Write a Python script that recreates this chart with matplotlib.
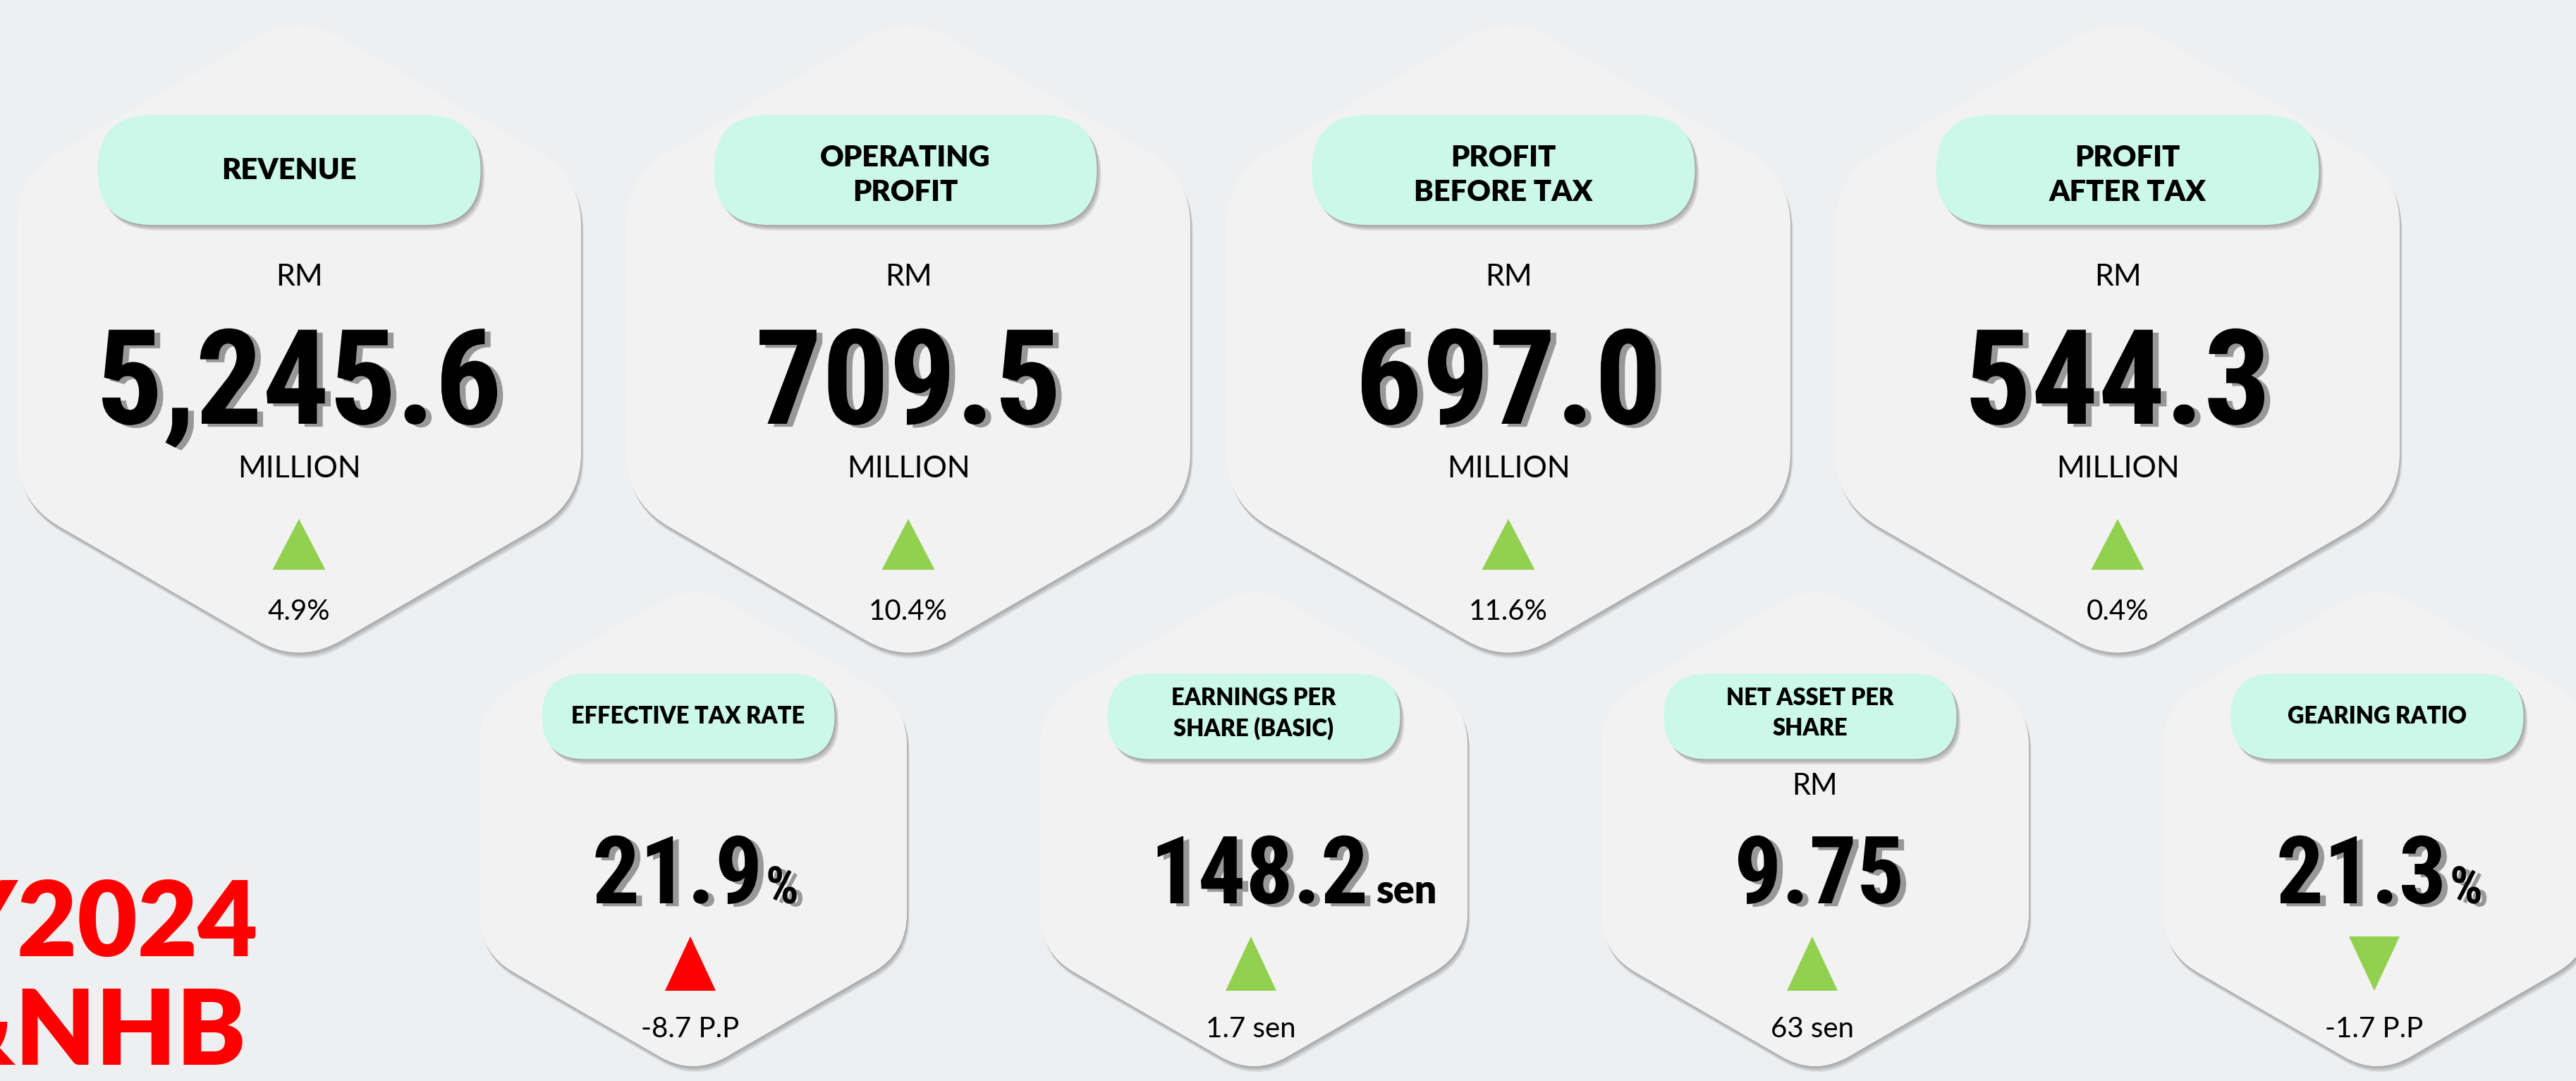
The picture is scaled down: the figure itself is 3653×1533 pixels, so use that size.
import numpy as np
import matplotlib
matplotlib.use("Agg")
import matplotlib.pyplot as plt
from matplotlib.path import Path
from matplotlib.patches import PathPatch, FancyBboxPatch, Polygon
from matplotlib.textpath import TextPath
from matplotlib.font_manager import FontProperties
import matplotlib.patheffects as pe

# --- data ---
top_titles = ["REVENUE", "OPERATING\nPROFIT", "PROFIT\nBEFORE TAX", "PROFIT\nAFTER TAX"]
top_values = [5245.6, 709.5, 697.0, 544.3]          # RM million
top_growth = [4.9, 10.4, 11.6, 0.4]                 # % change

bottom_titles = ["EFFECTIVE TAX RATE", "EARNINGS PER\nSHARE (BASIC)", "NET ASSET PER\nSHARE", "GEARING RATIO"]
bottom_values = ["21.9", "148.2", "9.75", "21.3"]
bottom_units = ["%", "sen", "", "%"]
bottom_prefix = ["", "", "RM", ""]
bottom_changes = ["-8.7 P.P", "1.7 sen", "63 sen", "-1.7 P.P"]
bottom_up = [True, True, True, False]
bottom_good = [False, True, True, True]

title_lines = ["FY2024", "F&NHB"]

# --- style ---
BG = "#edeff1"
HEX = "#f2f2f2"
MINT = "#ccf8ea"
GREEN = "#92d050"
RED = "#ff0000"

W, H = 3653, 1533
COND = ["Roboto Condensed", "DejaVu Sans Condensed", "Liberation Sans Narrow", "Roboto", "DejaVu Sans"]
SANS = ["Lato", "Noto Sans", "DejaVu Sans"]

fig = plt.figure(figsize=(W / 100, H / 100), dpi=100)
fig.patch.set_facecolor(BG)
ax = fig.add_axes([0, 0, 1, 1])
ax.set_xlim(0, W)
ax.set_ylim(H, 0)
ax.axis("off")
ax.set_facecolor(BG)


def hex_path(cx, cy, R, r):
    ang = np.deg2rad([90, 150, 210, 270, 330, 30])
    pts = np.column_stack([cx + R * np.cos(ang), cy + R * np.sin(ang)])
    verts, codes = [], []
    for i in range(6):
        p, prev, nxt = pts[i], pts[i - 1], pts[(i + 1) % 6]
        a = p + (prev - p) / np.linalg.norm(prev - p) * r
        b = p + (nxt - p) / np.linalg.norm(nxt - p) * r
        verts.append(a)
        codes.append(Path.MOVETO if i == 0 else Path.LINETO)
        verts += [p, b]
        codes += [Path.CURVE3, Path.CURVE3]
    verts.append(verts[0])
    codes.append(Path.CLOSEPOLY)
    return Path(verts, codes)


def draw_hex(cx, cy, R, r):
    for k in range(6, 0, -1):
        sh = hex_path(cx + k * 0.6, cy + k * 1.4, R, r)
        ax.add_patch(PathPatch(sh, fc="black", ec="none", alpha=0.055, zorder=1))
    ax.add_patch(PathPatch(hex_path(cx, cy, R, r), fc=HEX, ec="none", zorder=2))


def draw_pill(cx, cy, w, h):
    for k in range(5, 0, -1):
        ax.add_patch(FancyBboxPatch((cx - w / 2 + k * 1.2, cy - h / 2 + k * 1.6), w, h,
                                    boxstyle=f"round,pad=0,rounding_size={h / 2}",
                                    fc="black", ec="none", alpha=0.07, zorder=3))
    ax.add_patch(FancyBboxPatch((cx - w / 2, cy - h / 2), w, h,
                                boxstyle=f"round,pad=0,rounding_size={h / 2}",
                                fc=MINT, ec="none", zorder=4))


def draw_tri(cx, top, bot, w, up, color):
    if up:
        pts = [(cx - w / 2, bot), (cx + w / 2, bot), (cx, top)]
    else:
        pts = [(cx - w / 2, top), (cx + w / 2, top), (cx, bot)]
    ax.add_patch(Polygon(pts, closed=True, fc=color, ec="none", zorder=5))


def ink(s, fp):
    return TextPath((0, 0), s, size=100, prop=fp).get_extents()


fp_big = FontProperties(family=COND, weight="bold", stretch="condensed")
cap100 = ink("0", fp_big).height

# common size for the big numbers, limited by cap height and width
top_strings = [f"{v:,.1f}" for v in top_values]
top_allow = [560, 430, 420, 440]
top_px = min([142 / cap100 * 100] + [a / ink(s, fp_big).width * 100 for s, a in zip(top_strings, top_allow)])
bot_allow = [230, 330, 270, 240]
bot_px = min([116 / cap100 * 100] + [a / ink(s, fp_big).width * 100 for s, a in zip(bottom_values, bot_allow)])
shadow = [pe.withSimplePatchShadow(offset=(6, -3), shadow_rgbFace="#7a7a7a", alpha=0.75)]

# --- top row ---
top_cx = [424, 1288, 2139, 3003]
pill_cx = [410, 1284, 2132, 3017]
for i in range(4):
    cx = top_cx[i]
    draw_hex(cx, 481, 462, 70)
    draw_pill(pill_cx[i], 241, 543, 156)
    lines = top_titles[i].split("\n")
    ys = [254] if len(lines) == 1 else [236, 285]
    for ln, y in zip(lines, ys):
        ax.text(pill_cx[i], y, ln, ha="center", va="baseline", fontsize=30,
                family=SANS, weight="heavy", color="black", zorder=6)
    ax.text(cx, 405, "RM", ha="center", va="baseline", fontsize=31, family=SANS, zorder=6)
    ax.text(cx, 601, top_strings[i], ha="center", va="baseline", fontsize=top_px * 0.72,
            family=COND, weight="bold", stretch="condensed", color="black",
            path_effects=shadow, zorder=6)
    ax.text(cx, 677, "MILLION", ha="center", va="baseline", fontsize=31, family=SANS, zorder=6)
    draw_tri(cx, 736, 808, 75, True, GREEN)
    ax.text(cx, 879, f"{top_growth[i]:.1f}%", ha="center", va="baseline", fontsize=29,
            family=SANS, zorder=6)

# --- bottom row ---
bot_cx = [983, 1778, 2574, 3371]
bpill_cx = [976, 1778, 2567, 3371]
for i in range(4):
    cx = bot_cx[i]
    draw_hex(cx, 1176, 350, 55)
    draw_pill(bpill_cx[i], 1016, 415, 121)
    lines = bottom_titles[i].split("\n")
    ys = [1026] if len(lines) == 1 else [1000, 1043]
    for ln, y in zip(lines, ys):
        ax.text(bpill_cx[i], y, ln, ha="center", va="baseline", fontsize=23.5,
                family=SANS, weight="heavy", color="black", zorder=6)
    if bottom_prefix[i]:
        ax.text(cx, 1127, bottom_prefix[i], ha="center", va="baseline", fontsize=30,
                family=SANS, zorder=6)

    s = bottom_values[i]
    w_num = ink(s, fp_big).width * bot_px / 100
    unit = bottom_units[i]
    if unit == "%":
        u_px = bot_px * 0.55
        w_u = ink("%", fp_big).width * u_px / 100
        x0 = cx - (w_num + 16 + w_u) / 2
    else:
        x0 = cx - w_num / 2
    ax.text(x0, 1281, s, ha="left", va="baseline", fontsize=bot_px * 0.72,
            family=COND, weight="bold", stretch="condensed", color="black",
            path_effects=shadow, zorder=6)
    if unit == "%":
        ax.text(x0 + w_num + 16, 1281, "%", ha="left", va="baseline", fontsize=u_px * 0.72,
                family=COND, weight="bold", stretch="condensed", color="black",
                path_effects=shadow, zorder=6)
    elif unit:
        ax.text(x0 + w_num + 26, 1281, unit, ha="left", va="baseline", fontsize=40,
                family=SANS, weight="heavy", color="black", zorder=6)

    color = GREEN if bottom_good[i] else RED
    draw_tri(cx - 4, 1328, 1405, 72, bottom_up[i], color)
    ax.text(cx - 4, 1471, bottom_changes[i], ha="center", va="baseline", fontsize=29,
            family=SANS, zorder=6)

# --- cropped red title on the left ---
ax.text(366, 1356, title_lines[0], ha="right", va="baseline", fontsize=106,
        family=SANS, weight="heavy", color=RED, zorder=6)
ax.text(349, 1510, title_lines[1], ha="right", va="baseline", fontsize=106,
        family=SANS, weight="heavy", color=RED, zorder=6)

fig.savefig("out.png", dpi=100, facecolor=BG)
